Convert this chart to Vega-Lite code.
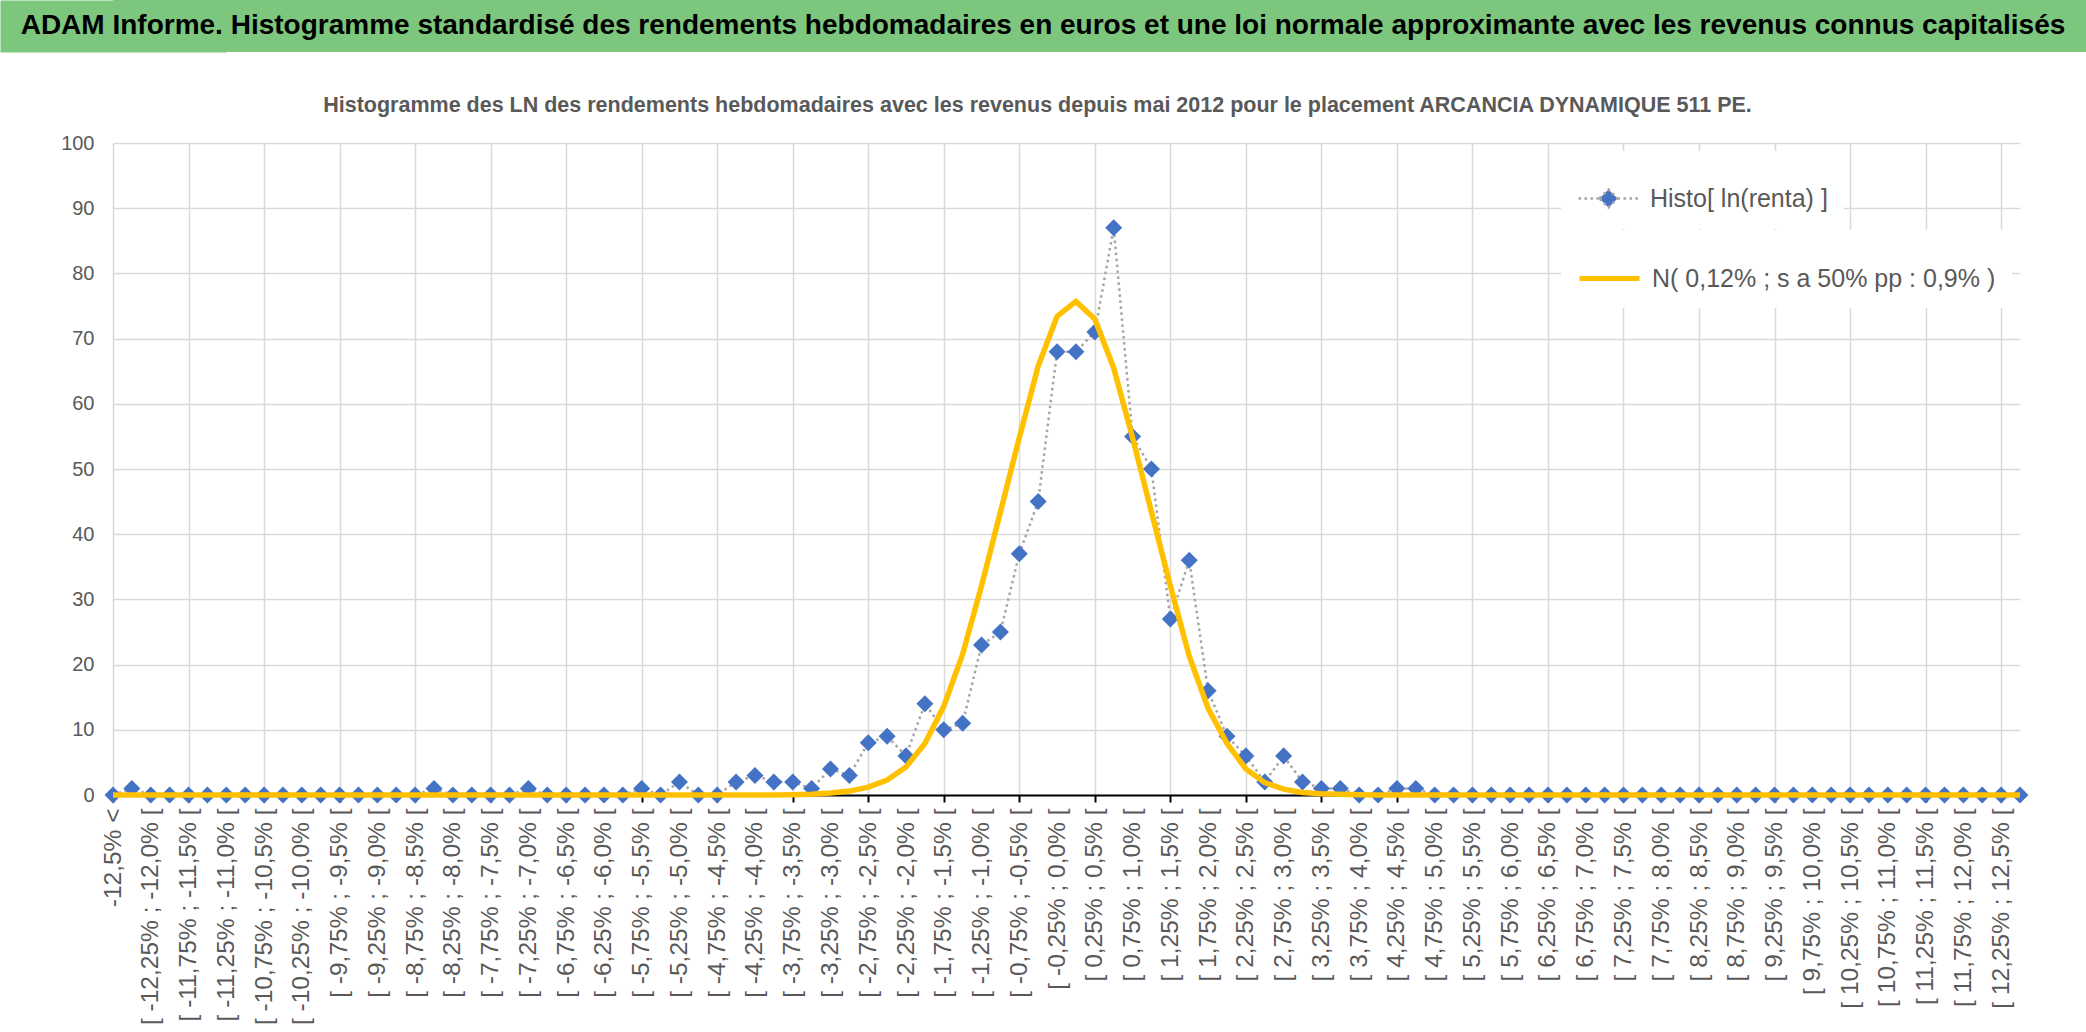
{
  "$schema": "https://vega.github.io/schema/vega-lite/v6.json",
  "padding": 0,
  "background": "white",
  "spacing": 42,
  "config": {
    "view": {"stroke": null},
    "font": "Liberation Sans",
    "legend": {"layout": {"direction": "vertical", "margin": 1, "top-right": {"direction": "vertical", "margin": 1}}}
  },
  "resolve": {"scale": {"fill": "independent", "stroke": "independent"}, "legend": {"fill": "independent", "stroke": "independent"}},
  "vconcat": [
    {
      "width": 1973,
      "height": 52,
      "view": {"fill": "#7DC67D", "stroke": null},
      "data": {"values": [{"titre": "ADAM Informe. Histogramme standardisé des rendements hebdomadaires en euros et une loi normale approximante avec les revenus connus capitalisés"}]},
      "mark": {"type": "text", "font": "Liberation Sans", "fontWeight": "bold", "fontSize": 28, "color": "#000000", "dx": -56.5},
      "encoding": {
        "text": {"field": "titre"},
        "y": {
          "field": "titre",
          "type": "nominal",
          "axis": {"title": null, "labels": false, "ticks": false, "grid": false, "domain": true, "domainColor": "#7DC67D", "domainWidth": 226}
        }
      }
    },
    {
      "width": 1907,
      "height": 652,
      "title": {
        "text": "Histogramme des LN des rendements hebdomadaires avec les revenus depuis mai 2012 pour le placement ARCANCIA DYNAMIQUE 511 PE.",
        "font": "Liberation Sans",
        "fontSize": 21.5,
        "fontWeight": "bold",
        "color": "#595959",
        "offset": 17,
        "dx": -29,
        "anchor": "middle"
      },
      "data": {
        "values": [
          {"classe": "-12,5% <", "histo": 0, "normale": 0},
          {"classe": "[ -12,5% ; -12,25% [", "histo": 1, "normale": 0},
          {"classe": "[ -12,25% ; -12,0% [", "histo": 0, "normale": 0},
          {"classe": "[ -12,0% ; -11,75% [", "histo": 0, "normale": 0},
          {"classe": "[ -11,75% ; -11,5% [", "histo": 0, "normale": 0},
          {"classe": "[ -11,5% ; -11,25% [", "histo": 0, "normale": 0},
          {"classe": "[ -11,25% ; -11,0% [", "histo": 0, "normale": 0},
          {"classe": "[ -11,0% ; -10,75% [", "histo": 0, "normale": 0},
          {"classe": "[ -10,75% ; -10,5% [", "histo": 0, "normale": 0},
          {"classe": "[ -10,5% ; -10,25% [", "histo": 0, "normale": 0},
          {"classe": "[ -10,25% ; -10,0% [", "histo": 0, "normale": 0},
          {"classe": "[ -10,0% ; -9,75% [", "histo": 0, "normale": 0},
          {"classe": "[ -9,75% ; -9,5% [", "histo": 0, "normale": 0},
          {"classe": "[ -9,5% ; -9,25% [", "histo": 0, "normale": 0},
          {"classe": "[ -9,25% ; -9,0% [", "histo": 0, "normale": 0},
          {"classe": "[ -9,0% ; -8,75% [", "histo": 0, "normale": 0},
          {"classe": "[ -8,75% ; -8,5% [", "histo": 0, "normale": 0},
          {"classe": "[ -8,5% ; -8,25% [", "histo": 1, "normale": 0},
          {"classe": "[ -8,25% ; -8,0% [", "histo": 0, "normale": 0},
          {"classe": "[ -8,0% ; -7,75% [", "histo": 0, "normale": 0},
          {"classe": "[ -7,75% ; -7,5% [", "histo": 0, "normale": 0},
          {"classe": "[ -7,5% ; -7,25% [", "histo": 0, "normale": 0},
          {"classe": "[ -7,25% ; -7,0% [", "histo": 1, "normale": 0},
          {"classe": "[ -7,0% ; -6,75% [", "histo": 0, "normale": 0},
          {"classe": "[ -6,75% ; -6,5% [", "histo": 0, "normale": 0},
          {"classe": "[ -6,5% ; -6,25% [", "histo": 0, "normale": 0},
          {"classe": "[ -6,25% ; -6,0% [", "histo": 0, "normale": 0},
          {"classe": "[ -6,0% ; -5,75% [", "histo": 0, "normale": 0},
          {"classe": "[ -5,75% ; -5,5% [", "histo": 1, "normale": 0},
          {"classe": "[ -5,5% ; -5,25% [", "histo": 0, "normale": 0},
          {"classe": "[ -5,25% ; -5,0% [", "histo": 2, "normale": 0},
          {"classe": "[ -5,0% ; -4,75% [", "histo": 0, "normale": 0},
          {"classe": "[ -4,75% ; -4,5% [", "histo": 0, "normale": 0},
          {"classe": "[ -4,5% ; -4,25% [", "histo": 2, "normale": 0},
          {"classe": "[ -4,25% ; -4,0% [", "histo": 3, "normale": 0},
          {"classe": "[ -4,0% ; -3,75% [", "histo": 2, "normale": 0},
          {"classe": "[ -3,75% ; -3,5% [", "histo": 2, "normale": 0.05},
          {"classe": "[ -3,5% ; -3,25% [", "histo": 1, "normale": 0.1},
          {"classe": "[ -3,25% ; -3,0% [", "histo": 4, "normale": 0.3},
          {"classe": "[ -3,0% ; -2,75% [", "histo": 3, "normale": 0.6},
          {"classe": "[ -2,75% ; -2,5% [", "histo": 8, "normale": 1.2},
          {"classe": "[ -2,5% ; -2,25% [", "histo": 9, "normale": 2.3},
          {"classe": "[ -2,25% ; -2,0% [", "histo": 6, "normale": 4.3},
          {"classe": "[ -2,0% ; -1,75% [", "histo": 14, "normale": 7.9},
          {"classe": "[ -1,75% ; -1,5% [", "histo": 10, "normale": 13.6},
          {"classe": "[ -1,5% ; -1,25% [", "histo": 11, "normale": 21.6},
          {"classe": "[ -1,25% ; -1,0% [", "histo": 23, "normale": 32.1},
          {"classe": "[ -1,0% ; -0,75% [", "histo": 25, "normale": 43.4},
          {"classe": "[ -0,75% ; -0,5% [", "histo": 37, "normale": 54.8},
          {"classe": "[ -0,5% ; -0,25% [", "histo": 45, "normale": 65.8},
          {"classe": "[ -0,25% ; 0,0% [", "histo": 68, "normale": 73.4},
          {"classe": "[ 0,0% ; 0,25% [", "histo": 68, "normale": 75.7},
          {"classe": "[ 0,25% ; 0,5% [", "histo": 71, "normale": 73.0},
          {"classe": "[ 0,5% ; 0,75% [", "histo": 87, "normale": 65.5},
          {"classe": "[ 0,75% ; 1,0% [", "histo": 55, "normale": 54.8},
          {"classe": "[ 1,0% ; 1,25% [", "histo": 50, "normale": 43.4},
          {"classe": "[ 1,25% ; 1,5% [", "histo": 27, "normale": 32.1},
          {"classe": "[ 1,5% ; 1,75% [", "histo": 36, "normale": 21.3},
          {"classe": "[ 1,75% ; 2,0% [", "histo": 16, "normale": 13.3},
          {"classe": "[ 2,0% ; 2,25% [", "histo": 9, "normale": 7.9},
          {"classe": "[ 2,25% ; 2,5% [", "histo": 6, "normale": 4.0},
          {"classe": "[ 2,5% ; 2,75% [", "histo": 2, "normale": 1.9},
          {"classe": "[ 2,75% ; 3,0% [", "histo": 6, "normale": 0.9},
          {"classe": "[ 3,0% ; 3,25% [", "histo": 2, "normale": 0.4},
          {"classe": "[ 3,25% ; 3,5% [", "histo": 1, "normale": 0.2},
          {"classe": "[ 3,5% ; 3,75% [", "histo": 1, "normale": 0.1},
          {"classe": "[ 3,75% ; 4,0% [", "histo": 0, "normale": 0.05},
          {"classe": "[ 4,0% ; 4,25% [", "histo": 0, "normale": 0},
          {"classe": "[ 4,25% ; 4,5% [", "histo": 1, "normale": 0},
          {"classe": "[ 4,5% ; 4,75% [", "histo": 1, "normale": 0},
          {"classe": "[ 4,75% ; 5,0% [", "histo": 0, "normale": 0},
          {"classe": "[ 5,0% ; 5,25% [", "histo": 0, "normale": 0},
          {"classe": "[ 5,25% ; 5,5% [", "histo": 0, "normale": 0},
          {"classe": "[ 5,5% ; 5,75% [", "histo": 0, "normale": 0},
          {"classe": "[ 5,75% ; 6,0% [", "histo": 0, "normale": 0},
          {"classe": "[ 6,0% ; 6,25% [", "histo": 0, "normale": 0},
          {"classe": "[ 6,25% ; 6,5% [", "histo": 0, "normale": 0},
          {"classe": "[ 6,5% ; 6,75% [", "histo": 0, "normale": 0},
          {"classe": "[ 6,75% ; 7,0% [", "histo": 0, "normale": 0},
          {"classe": "[ 7,0% ; 7,25% [", "histo": 0, "normale": 0},
          {"classe": "[ 7,25% ; 7,5% [", "histo": 0, "normale": 0},
          {"classe": "[ 7,5% ; 7,75% [", "histo": 0, "normale": 0},
          {"classe": "[ 7,75% ; 8,0% [", "histo": 0, "normale": 0},
          {"classe": "[ 8,0% ; 8,25% [", "histo": 0, "normale": 0},
          {"classe": "[ 8,25% ; 8,5% [", "histo": 0, "normale": 0},
          {"classe": "[ 8,5% ; 8,75% [", "histo": 0, "normale": 0},
          {"classe": "[ 8,75% ; 9,0% [", "histo": 0, "normale": 0},
          {"classe": "[ 9,0% ; 9,25% [", "histo": 0, "normale": 0},
          {"classe": "[ 9,25% ; 9,5% [", "histo": 0, "normale": 0},
          {"classe": "[ 9,5% ; 9,75% [", "histo": 0, "normale": 0},
          {"classe": "[ 9,75% ; 10,0% [", "histo": 0, "normale": 0},
          {"classe": "[ 10,0% ; 10,25% [", "histo": 0, "normale": 0},
          {"classe": "[ 10,25% ; 10,5% [", "histo": 0, "normale": 0},
          {"classe": "[ 10,5% ; 10,75% [", "histo": 0, "normale": 0},
          {"classe": "[ 10,75% ; 11,0% [", "histo": 0, "normale": 0},
          {"classe": "[ 11,0% ; 11,25% [", "histo": 0, "normale": 0},
          {"classe": "[ 11,25% ; 11,5% [", "histo": 0, "normale": 0},
          {"classe": "[ 11,5% ; 11,75% [", "histo": 0, "normale": 0},
          {"classe": "[ 11,75% ; 12,0% [", "histo": 0, "normale": 0},
          {"classe": "[ 12,0% ; 12,25% [", "histo": 0, "normale": 0},
          {"classe": "[ 12,25% ; 12,5% [", "histo": 0, "normale": 0},
          {"classe": "12,5% <=", "histo": 0, "normale": 0}
        ]
      },
      "encoding": {
        "x": {
          "field": "classe",
          "type": "nominal",
          "sort": null,
          "scale": {"type": "point", "padding": 0},
          "axis": {
            "title": null,
            "labelAngle": 270,
            "labelAlign": "right",
            "labelBaseline": "middle",
            "labelFont": "Liberation Sans",
            "labelFontSize": 24.5,
            "labelColor": "#595959",
            "labelPadding": 6,
            "labelLimit": 400,
            "labelOverlap": false,
            "labelExpr": "round(datum.index * 101) % 2 === 0 ? datum.label : ''",
            "ticks": true,
            "tickSize": 7,
            "tickWidth": 2,
            "tickColor": "#000000",
            "tickOpacity": {"condition": {"test": "round(datum.index * 101) % 4 === 0", "value": 1}, "value": 0},
            "grid": true,
            "gridColor": "#D9D9D9",
            "gridWidth": 1.5,
            "gridOpacity": {"condition": {"test": "round(datum.index * 101) % 4 === 0", "value": 1}, "value": 0},
            "domainColor": "#000000",
            "domainWidth": 2
          }
        }
      },
      "layer": [
        {
          "mark": {"type": "line", "color": "#A5A5A5", "strokeWidth": 2.5, "strokeDash": [2.5, 3.5]},
          "encoding": {
            "y": {
              "field": "histo",
              "type": "quantitative",
              "scale": {"domain": [0, 100], "nice": false},
              "axis": {
                "title": null,
                "values": [0, 10, 20, 30, 40, 50, 60, 70, 80, 90, 100],
                "grid": true,
                "gridColor": "#D9D9D9",
                "gridWidth": 1.5,
                "domain": false,
                "ticks": false,
                "tickSize": 0,
                "labelPadding": 19,
                "labelFont": "Liberation Sans",
                "labelFontSize": 20,
                "labelColor": "#595959",
                "minExtent": 113
              }
            }
          }
        },
        {
          "mark": {"type": "point", "shape": "diamond", "filled": true, "size": 290, "opacity": 1},
          "encoding": {
            "y": {"field": "histo", "type": "quantitative"},
            "fill": {
              "datum": "Histo[ ln(renta) ]",
              "scale": {"range": ["#4472C4"]},
              "legend": {
                "title": null,
                "orient": "top-right",
                "offset": 8,
                "fillColor": "white",
                "padding": 16,
                "labelFont": "Liberation Sans",
                "labelFontSize": 25,
                "labelColor": "#595959",
                "labelLimit": 500,
                "labelOffset": 10,
                "symbolType": "M-1,0L-0.3,0M0.3,0L1,0M-0.3,0L0,-0.3L0.3,0L0,0.3Z",
                "symbolSize": 3600,
                "symbolFillColor": "#4472C4",
                "symbolStrokeColor": "#A5A5A5",
                "symbolStrokeWidth": 2.5,
                "symbolDash": [2.5, 3.5],
                "symbolOpacity": 1
              }
            }
          }
        },
        {
          "mark": {"type": "line", "strokeWidth": 5.5},
          "encoding": {
            "y": {"field": "normale", "type": "quantitative"},
            "stroke": {
              "datum": "N( 0,12% ; s a 50% pp : 0,9% )",
              "scale": {"range": ["#FFC000"]},
              "legend": {
                "title": null,
                "orient": "top-right",
                "offset": 8,
                "fillColor": "white",
                "padding": 16,
                "labelFont": "Liberation Sans",
                "labelFontSize": 25,
                "labelColor": "#595959",
                "labelLimit": 500,
                "labelOffset": 10,
                "symbolType": "stroke",
                "symbolSize": 3600,
                "symbolStrokeWidth": 5,
                "symbolOpacity": 1
              }
            }
          }
        }
      ]
    }
  ]
}
